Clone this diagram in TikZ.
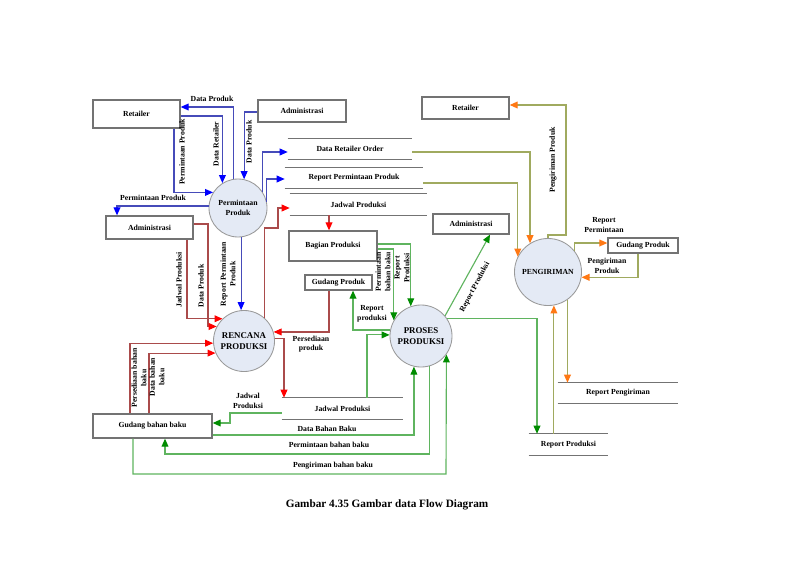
\documentclass[tikz,border=0pt]{standalone}
\usepackage{fontspec}
\setmainfont{Liberation Serif}
\usetikzlibrary{arrows.meta}
\definecolor{procfill}{RGB}{228,234,245}
\definecolor{flowblue}{RGB}{70,75,185}
\definecolor{flowred}{RGB}{170,75,75}
\definecolor{flowgreen}{RGB}{95,180,95}
\definecolor{tipgreen}{RGB}{0,140,0}
\definecolor{flowolive}{RGB}{160,170,95}
\definecolor{tiporange}{RGB}{255,120,20}
\newcommand{\lbl}{\fontsize{5.5}{6.8}\selectfont\bfseries}
\newcommand{\lblbig}{\fontsize{6.3}{7.4}\selectfont\bfseries}

\begin{document}
\begin{tikzpicture}[x=0.025cm, y=-0.025cm,
  entity/.style={draw=black!55, line width=0.9pt, fill=white, font=\lbl, inner sep=0pt},
  proc/.style={circle, draw=black!40, line width=0.6pt, fill=procfill, font=\lbl, align=center, inner sep=0pt},
  store/.style={font=\lbl, inner sep=0pt},
  storeline/.style={draw=black!55, line width=0.9pt},
  lbl/.style={font=\lbl, align=center, inner sep=0.5pt},
  bflow/.style={draw=flowblue, line width=0.8pt, -{Triangle[length=2mm,width=1.7mm,color=blue]}},
  rflow/.style={draw=flowred, line width=0.8pt, -{Triangle[length=2mm,width=1.7mm,color=red]}},
  gflow/.style={draw=flowgreen, line width=0.8pt, -{Triangle[length=2mm,width=1.7mm,color=tipgreen]}},
  oflow/.style={draw=flowolive, line width=0.8pt, -{Triangle[length=2mm,width=1.7mm,color=tiporange]}}
]
\path[use as bounding box, fill=white] (0,0) rectangle (800,565);

\node[entity, minimum width=2.175cm, minimum height=0.7cm] (retailA) at (136.5,114) {Retailer};
\node[entity, minimum width=2.2cm, minimum height=0.55cm] (adminA) at (302,111) {Administrasi};
\node[entity, minimum width=2.175cm, minimum height=0.575cm] (adminB) at (149.5,227.5) {Administrasi};
\node[entity, minimum width=2.2cm, minimum height=0.75cm] (bagian) at (333,246) {Bagian Produksi};
\node[entity, minimum width=1.675cm, minimum height=0.375cm] (gudangP) at (338.5,282.5) {Gudang Produk};
\node[entity, minimum width=2.975cm, minimum height=0.6cm] (gudangB) at (152.5,426) {Gudang bahan baku};
\node[entity, minimum width=1.9cm, minimum height=0.5cm] (adminC) at (471,224) {Administrasi};
\node[entity, minimum width=2.175cm, minimum height=0.55cm] (retailB) at (465.5,108) {Retailer};
\node[entity, minimum width=1.75cm, minimum height=0.375cm] (gudangR) at (643,245.5) {Gudang Produk};

\node[proc, minimum size=1.45cm] (permin) at (238,208) {Permintaan\\Produk};
\node[proc, minimum size=1.525cm, font=\lblbig] (rencana) at (244,341) {RENCANA\\PRODUKSI};
\node[proc, minimum size=1.55cm, font=\lblbig] (proses) at (421,336) {PROSES\\PRODUKSI};
\node[proc, minimum size=1.675cm] (pengir) at (548,272) {PENGIRIMAN};

\node[store, minimum width=3.1cm, minimum height=0.5cm] (sRetOrder) at (350,149) {Data Retailer Order};
\node[store, minimum width=3.45cm, minimum height=0.5cm] (sRepPerm) at (354,178) {Report Permintaan Produk};
\node[store, minimum width=3.425cm, minimum height=0.525cm] (sJadwalA) at (358.5,204.5) {Jadwal Produksi};
\node[store, minimum width=3.025cm, minimum height=0.525cm] (sJadwalB) at (342.5,408.5) {Jadwal Produksi};
\node[store, minimum width=3cm, minimum height=0.5cm] (sRepKirim) at (618,393) {Report Pengiriman};
\node[store, minimum width=1.975cm, minimum height=0.525cm] (sRepProd) at (568.5,444.5) {Report Produksi};
\foreach \s in {sRetOrder,sRepPerm,sJadwalA,sJadwalB,sRepKirim,sRepProd}
  \draw[storeline] (\s.north west) -- (\s.north east) (\s.south west) -- (\s.south east);

\draw[bflow] (permin.98) |- (retailA.east |- 0,107);
\draw[bflow] (retailA.east |- 0,116) -| (permin.122);
\draw[bflow] (retailA.south -| 174,0) |- (permin.148);
\draw[bflow] (adminA.west |- 0,112) -| (permin.78);
\draw[bflow] (permin.176) -| (adminB.north -| 117,0);
\draw[bflow] (permin.34) |- (sRetOrder.west |- 0,152);
\draw[bflow] (permin.12) |- (sRepPerm.west |- 0,179);
\draw[bflow] (permin.-84) -- (permin.-84 |- rencana.north);

\draw[rflow] (adminB.south -| 187,0) |- (rencana.134);
\draw[rflow] (adminB.east |- 0,224) -| (rencana.152 -| 208,0) -- (rencana.152);
\draw[rflow] (rencana.49) |- (278,228) |- (sJadwalA.west |- 0,208);
\draw[rflow] (sJadwalA.south -| 329,0) -- (bagian.north -| 329,0);
\draw[rflow] (gudangP.south -| 329,0) |- (rencana.17);
\draw[rflow] (rencana.5) -| (sJadwalB.north -| 284,0);
\draw[rflow] (gudangB.north -| 130,0) |- (rencana.184);
\draw[rflow] (gudangB.north -| 149,0) |- (rencana.203);

\draw[gflow] (sJadwalB.west |- 0,413) -| (230,423) -- (gudangB.east |- 0,423);
\draw[gflow] (sJadwalB.north -| 367,0) |- (proses.178);
\draw[gflow] (proses.169) -| (gudangP.south -| 353,0);
\draw[gflow] (bagian.east |- 0,244) -| (proses.109);
\draw[gflow] (bagian.east |- 0,249) -| (proses.150);
\draw[gflow] (proses.40) -- (adminC.south -| 490,0);
\draw[gflow] (proses.33) -| (sRepProd.north -| 537,0);
\draw[gflow] (gudangB.east |- 0,435) -| (proses.-103);
\draw[gflow] (proses.-75) |- (165,454) -- (gudangB.south -| 165,0);
\draw[gflow] (gudangB.south -| 133,0) |- (446,474) -- (proses.-36);

\draw[oflow] (sRetOrder.east |- 0,152) -| (pengir.122);
\draw[oflow] (sRepPerm.east |- 0,183) -| (pengir.153);
\draw[oflow] (pengir.north) |- (566,235) |- (retailB.east |- 0,105);
\draw[oflow] (pengir.39) |- (gudangR.west |- 0,243);
\draw[oflow] (gudangR.south -| 638,0) |- (pengir.-9);
\draw[oflow] (pengir.-55) -- (pengir.-55 |- sRepKirim.north);
\draw[oflow] (pengir.-80 |- sRepProd.north) -- (pengir.-80);

\node[lbl] (lDataProdukA) at (212,99) {Data Produk};
\node[lbl, rotate=90] (lPermProdA) at (182,152) {Permintaan Produk};
\node[lbl, rotate=90] (lDataRetailer) at (216,144) {Data Retailer};
\node[lbl, rotate=90] (lDataProdukB) at (249,142) {Data Produk};
\node[lbl] (lPermProdB) at (153,198) {Permintaan Produk};
\node[lbl, rotate=90] (lRepPerm) at (228,274) {Report Permintaan\\Produk};
\node[lbl, rotate=90] (lJadwalA) at (179,280) {Jadwal Produksi};
\node[lbl, rotate=90] (lDataProdukC) at (201,286) {Data Produk};
\node[lbl] (lSediaProduk) at (311,344) {Persediaan\\produk};
\node[lbl, rotate=90] (lSediaBahan) at (139,378) {Persediaan bahan\\baku};
\node[lbl, rotate=90] (lDataBahanA) at (157,377) {Data bahan\\baku};
\node[lbl] (lJadwalB) at (248,401) {Jadwal\\Produksi};
\node[lbl] (lDataBahanB) at (327,429) {Data Bahan Baku};
\node[lbl] (lMintaBahan) at (329,445) {Permintaan bahan baku};
\node[lbl] (lKirimBahan) at (333,466) {Pengiriman bahan baku};
\node[lbl] (lRepProdA) at (372,314) {Report\\produksi};
\node[lbl, rotate=90] (lMintaBahanB) at (383,272) {Permintaan\\bahan baku};
\node[lbl, rotate=90] (lRepProdB) at (402,268) {Report\\Produksi};
\node[lbl, rotate=62] (lRepProdC) at (475,287) {Report Produksi};
\node[lbl, rotate=90] (lKirimProduk) at (553,160) {Pengiriman Produk};
\node[lbl] (lRepPermB) at (604,225) {Report\\Permintaan};
\node[lbl] (lKirimProdukB) at (607,266) {Pengiriman\\Produk};

\node[font=\fontsize{8}{9}\selectfont\bfseries] (caption) at (387,505) {Gambar 4.35 Gambar data Flow Diagram};
\end{tikzpicture}
\end{document}
